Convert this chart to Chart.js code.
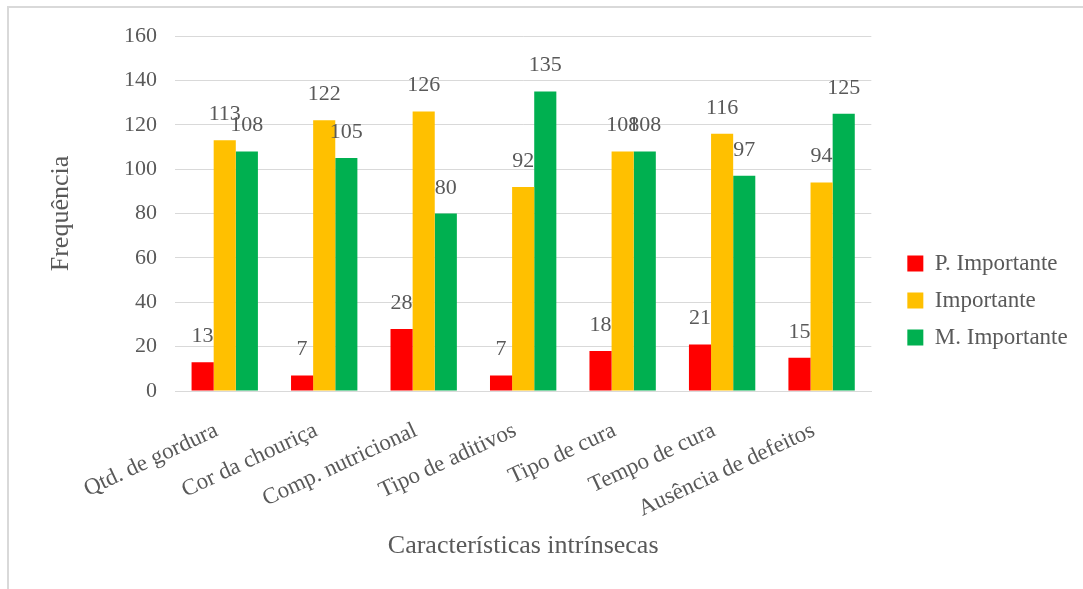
<!DOCTYPE html>
<html>
<head>
<meta charset="utf-8">
<script src="https://cdn.jsdelivr.net/npm/chart.js@4.4.1/dist/chart.umd.min.js"></script>
<style>
  html, body { margin: 0; padding: 0; background: #ffffff; }
  #wrap { position: relative; width: 1083px; height: 589px; }
</style>
</head>
<body>
<div id="wrap"><canvas id="c" width="1083" height="589"></canvas></div>
<script>
const categories = ["Qtd. de gordura", "Cor da chouriça", "Comp. nutricional", "Tipo de aditivos", "Tipo de cura", "Tempo de cura", "Ausência de defeitos"];
const seriesNames = ["P. Importante", "Importante", "M. Importante"];
const pImportante = [13, 7, 28, 7, 18, 21, 15];
const importante = [113, 122, 126, 92, 108, 116, 94];
const mImportante = [108, 105, 80, 135, 108, 97, 125];
const yTicks = [0, 20, 40, 60, 80, 100, 120, 140, 160];
const xTitle = "Características intrínsecas";
const yTitle = "Frequência";

const TEXT = "#595959";
const SERIF = "'Liberation Serif', 'Times New Roman', serif";

const framePlugin = {
  id: "frame",
  beforeDraw(chart) {
    const ctx = chart.ctx;
    ctx.save();
    ctx.fillStyle = "#ffffff";
    ctx.fillRect(0, 0, chart.width, chart.height);
    ctx.strokeStyle = "#D9D9D9";
    ctx.lineWidth = 2;
    ctx.beginPath();
    ctx.moveTo(8, chart.height);
    ctx.lineTo(8, 7);
    ctx.lineTo(chart.width, 7);
    ctx.stroke();
    ctx.restore();
  }
};

const labelPlugin = {
  id: "valueLabels",
  afterDatasetsDraw(chart) {
    const ctx = chart.ctx;
    ctx.save();
    ctx.font = "22px " + SERIF;
    ctx.fillStyle = TEXT;
    ctx.textAlign = "center";
    ctx.textBaseline = "alphabetic";
    chart.data.datasets.forEach((ds, i) => {
      const meta = chart.getDatasetMeta(i);
      meta.data.forEach((el, j) => {
        ctx.fillText(String(ds.data[j]), el.x, el.y - 20);
      });
    });
    ctx.restore();
  }
};

new Chart(document.getElementById("c"), {
  type: "bar",
  data: {
    labels: categories,
    datasets: [
      { label: seriesNames[0], data: pImportante, backgroundColor: "#FF0000" },
      { label: seriesNames[1], data: importante, backgroundColor: "#FFC000" },
      { label: seriesNames[2], data: mImportante, backgroundColor: "#00B050" }
    ]
  },
  options: {
    responsive: false,
    animation: false,
    devicePixelRatio: 1,
    layout: { padding: { top: 36, left: 0, right: 11, bottom: 24 } },
    datasets: { bar: { categoryPercentage: 0.667, barPercentage: 1.0 } },
    plugins: {
      legend: {
        position: "right",
        labels: {
          boxWidth: 16,
          boxHeight: 16,
          padding: 14,
          color: TEXT,
          font: { family: SERIF, size: 23 }
        }
      },
      tooltip: { enabled: false }
    },
    scales: {
      x: {
        grid: { display: false, drawTicks: false },
        border: { display: true, color: "#D9D9D9", width: 1 },
        ticks: {
          color: TEXT,
          font: { family: SERIF, size: 23 },
          minRotation: 25,
          maxRotation: 25,
          padding: 26,
          labelOffset: -8,
          autoSkip: false
        },
        title: {
          display: true,
          text: xTitle,
          color: TEXT,
          font: { family: SERIF, size: 26 },
          padding: { top: 0, bottom: 3 }
        },
        afterFit(scale) { scale.height = 174; }
      },
      y: {
        min: 0,
        max: 160,
        afterBuildTicks(scale) { scale.ticks = yTicks.map(v => ({ value: v })); },
        grid: { color: "#D9D9D9", lineWidth: 1, drawTicks: false },
        border: { display: false },
        ticks: {
          color: TEXT,
          font: { family: SERIF, size: 22 },
          padding: 18
        },
        title: {
          display: true,
          text: yTitle,
          color: TEXT,
          font: { family: SERIF, size: 26 },
          padding: { top: 46, bottom: 0 }
        },
        afterFit(scale) { scale.width = 175; }
      },
      spacer: {
        type: "linear",
        position: "right",
        display: true,
        grid: { display: false, drawTicks: false },
        border: { display: false },
        ticks: { display: false },
        afterFit(scale) { scale.width = 22; }
      }
    }
  },
  plugins: [framePlugin, labelPlugin]
});
</script>
</body>
</html>
